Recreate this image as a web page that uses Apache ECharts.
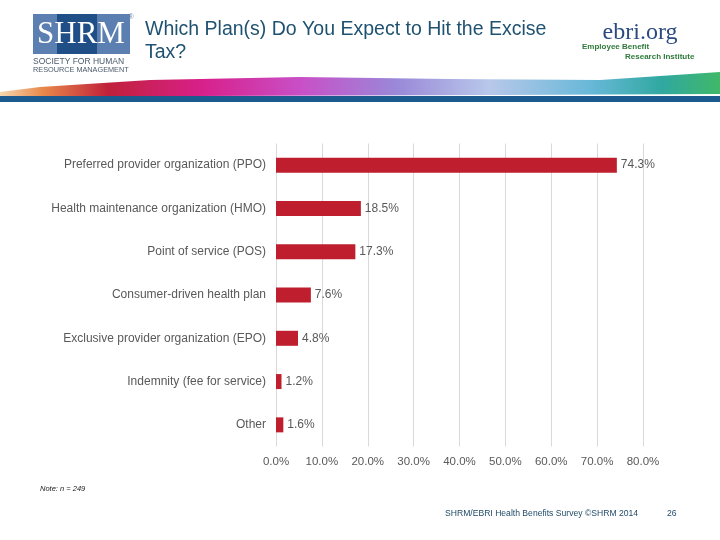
<!DOCTYPE html>
<html><head><meta charset="utf-8">
<script src="https://cdn.jsdelivr.net/npm/echarts@6/dist/echarts.min.js"></script>
<style>html,body{margin:0;padding:0;background:#fff}#c{width:720px;height:540px}</style>
</head><body><div id="c"></div>
<script>
var categories = ["Preferred provider organization (PPO)","Health maintenance organization (HMO)","Point of service (POS)","Consumer-driven health plan","Exclusive provider organization (EPO)","Indemnity (fee for service)","Other"];
var values = [74.3, 18.5, 17.3, 7.6, 4.8, 1.2, 1.6];
var tickValues = [0,10,20,30,40,50,60,70,80];
var titleText = "Which Plan(s) Do You Expect to Hit the Excise\nTax?";
var noteText = "Note: n = 249";
var footerText = "SHRM/EBRI Health Benefits Survey ©SHRM 2014";
var pageNum = "26";

var chart = echarts.init(document.getElementById('c'), null, {renderer:'canvas'});
var font = "Arial, 'Liberation Sans', sans-serif";
chart.setOption({
  animation:false,
  backgroundColor:'#fff',
  grid:{left:276,right:77,top:143.5,bottom:93.5,containLabel:false},
  xAxis:{type:'value',min:0,max:80,interval:10,
    axisLine:{show:false},axisTick:{show:false},
    splitLine:{lineStyle:{color:'#d9d9d9',width:1}},
    axisLabel:{formatter:function(v){return v.toFixed(1)+'%';},color:'#595959',fontSize:11.5,fontFamily:font,margin:9}},
  yAxis:{type:'category',inverse:true,data:categories,
    axisLine:{show:false},axisTick:{show:false},
    axisLabel:{color:'#595959',fontSize:12,fontFamily:font,margin:10}},
  series:[{type:'bar',data:values,barWidth:15,itemStyle:{color:'#be1e2d'},
    label:{show:true,position:'right',distance:4,formatter:function(p){return p.value.toFixed(1)+'%';},color:'#595959',fontSize:12,fontFamily:font}}],
  graphic:[
    {type:'rect',shape:{x:33,y:14,width:97,height:40},style:{fill:'#5a7fb0'}},
    {type:'rect',shape:{x:57,y:14,width:40,height:40},style:{fill:'#1f4f86'}},
    {type:'text',x:81,y:35,style:{text:'SHRM',fill:'#fff',font:'31px "Liberation Serif", serif',textAlign:'center',textVerticalAlign:'middle'}},
    {type:'text',x:131,y:17,style:{text:'®',fill:'#7a8ca8',font:'7px sans-serif',textAlign:'center',textVerticalAlign:'middle'}},
    {type:'text',x:33,y:62,style:{text:'SOCIETY FOR HUMAN',fill:'#4a5a6a',font:'8.5px Arial, sans-serif',textVerticalAlign:'middle'}},
    {type:'text',x:33,y:70,style:{text:'RESOURCE MANAGEMENT',fill:'#4a5a6a',font:'7.3px Arial, sans-serif',textVerticalAlign:'middle'}},
    {type:'text',x:145,y:18,style:{text:titleText,fill:'#1f5271',font:'19.5px Arial, "Liberation Sans", sans-serif',textVerticalAlign:'top',lineHeight:23}},
    {type:'text',x:640,y:33,style:{text:'ebri.org',fill:'#2b4a80',font:'24px "Liberation Serif", serif',textAlign:'center',textVerticalAlign:'middle'}},
    {type:'text',x:582,y:47,style:{text:'Employee Benefit',fill:'#2e7a3a',font:'bold 8px Arial, sans-serif',textVerticalAlign:'middle'}},
    {type:'text',x:625,y:57,style:{text:'Research Institute',fill:'#2e7a3a',font:'bold 8px Arial, sans-serif',textVerticalAlign:'middle'}},
    {type:'polygon',shape:{points:[[0,96],[0,92],[40,87],[150,80],[300,77],[450,79],[600,80],[720,72],[720,94],[500,95],[200,96]]},
      style:{fill:new echarts.graphic.LinearGradient(0,0,1,0,[
        {offset:0,color:'#f6d7b0'},{offset:0.06,color:'#e8884a'},{offset:0.15,color:'#c0203a'},{offset:0.28,color:'#d8208a'},
        {offset:0.42,color:'#c850c8'},{offset:0.55,color:'#9a88d8'},{offset:0.68,color:'#b8c8ea'},{offset:0.82,color:'#68b8d8'},
        {offset:0.92,color:'#30a8a0'},{offset:1,color:'#40b868'}])}},
    {type:'rect',shape:{x:0,y:96,width:720,height:6},style:{fill:'#1a5a8e'}},
    {type:'text',x:40,y:489,style:{text:noteText,fill:'#222',font:'italic 7.5px Arial, sans-serif',textVerticalAlign:'middle'}},
    {type:'text',x:445,y:514,style:{text:footerText,fill:'#1f4a66',font:'8.6px Arial, sans-serif',textVerticalAlign:'middle'}},
    {type:'text',x:667,y:514,style:{text:pageNum,fill:'#1f4a66',font:'8.6px Arial, sans-serif',textVerticalAlign:'middle'}}
  ]
});
</script></body></html>
